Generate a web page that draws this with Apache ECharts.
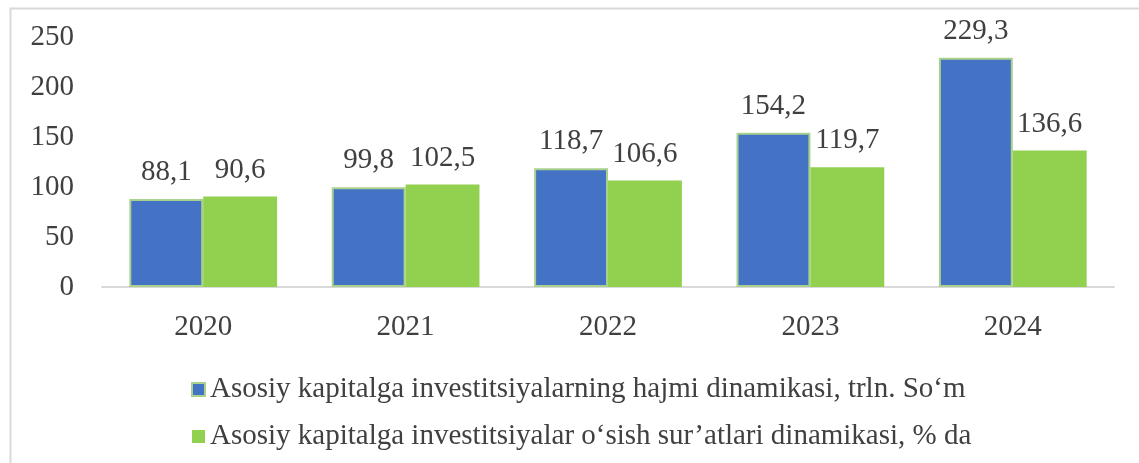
<!DOCTYPE html>
<html>
<head>
<meta charset="utf-8">
<script src="https://cdn.jsdelivr.net/npm/echarts@6/dist/echarts.min.js"></script>
<style>
  html, body { margin: 0; padding: 0; background: #fff; }
  #chart { width: 1139px; height: 463px; }
</style>
</head>
<body>
<div id="chart"></div>
<script>
var years = ['2020', '2021', '2022', '2023', '2024'];
var volumeName = 'Asosiy kapitalga investitsiyalarning hajmi dinamikasi, trln. So‘m';
var growthName = 'Asosiy kapitalga investitsiyalar o‘sish sur’atlari dinamikasi, % da';
var volumeData = [88.1, 99.8, 118.7, 154.2, 229.3];
var growthData = [90.6, 102.5, 106.6, 119.7, 136.6];

var serif = '"Liberation Serif", "Times New Roman", serif';
var textColor = '#404040';

function comma(p) {
  return String(p.value.toFixed(1)).replace('.', ',');
}

var myChart = echarts.init(document.getElementById('chart'));
var option = {
  animation: false,
  textStyle: { fontFamily: serif },
  graphic: [{
    type: 'rect',
    left: 8, top: 6,
    shape: { width: 1300, height: 600 },
    style: { fill: 'none', stroke: '#d9d9d9', lineWidth: 2 },
    silent: true
  }],
  grid: { left: 102, right: 25, top: 37, bottom: 176 },
  legend: {
    orient: 'vertical',
    left: 186,
    top: 370,
    itemWidth: 13,
    itemHeight: 13,
    itemGap: 18,
    itemTextGap: 7,
    icon: 'rect',
    textStyle: { fontFamily: serif, fontSize: 29, color: textColor },
    data: [volumeName, growthName]
  },
  xAxis: {
    type: 'category',
    data: years,
    axisLine: { lineStyle: { color: '#d9d9d9', width: 2 } },
    axisTick: { show: false },
    axisLabel: { fontFamily: serif, fontSize: 29, color: textColor, margin: 26 }
  },
  yAxis: {
    type: 'value',
    min: 0, max: 250, interval: 50,
    axisLine: { show: false },
    axisTick: { show: false },
    splitLine: { show: false },
    axisLabel: { fontFamily: serif, fontSize: 29, color: textColor, margin: 28 }
  },
  series: [{
    name: volumeName,
    type: 'bar',
    data: volumeData,
    barGap: '0%',
    barCategoryGap: '27%',
    itemStyle: { color: '#4472C4', borderColor: '#a9d18e', borderWidth: 2 },
    label: { show: true, position: 'top', distance: 12, formatter: comma,
             fontFamily: serif, fontSize: 29, color: textColor }
  }, {
    name: growthName,
    type: 'bar',
    data: growthData,
    itemStyle: { color: '#92D050' },
    label: { show: true, position: 'top', distance: 12, formatter: comma,
             fontFamily: serif, fontSize: 29, color: textColor }
  }]
};
myChart.setOption(option);
</script>
</body>
</html>
